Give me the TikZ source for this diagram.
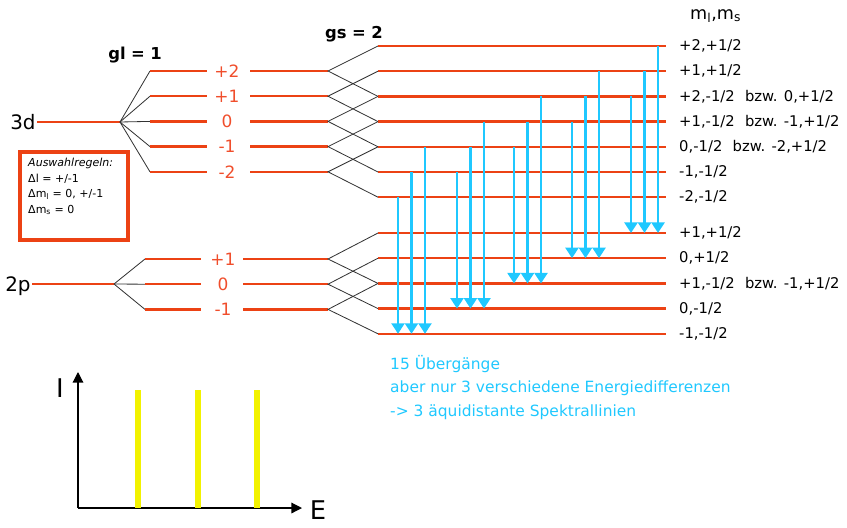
\documentclass[tikz,border=0pt]{standalone}
\usepackage{fontspec}
\setmainfont{DejaVu Sans}
\usepackage{xcolor}
\usetikzlibrary{arrows.meta,positioning}
\definecolor{levelred}{HTML}{EC4214}
\definecolor{labelred}{HTML}{F04E2C}
\definecolor{transblue}{HTML}{1FC8FF}
\definecolor{lineyellow}{HTML}{F2F200}

\begin{document}
\begin{tikzpicture}[x=0.03cm,y=-0.03cm,
    level/.style={draw=levelred,line width=2.2pt},
    split/.style={draw=black!80,line width=0.7pt},
    trans/.style={draw=transblue,line width=2.5pt,-{Triangle[width=11pt,length=9pt]}},
    mlabel/.style={text=labelred,font=\fontsize{14.5}{16}\selectfont,inner sep=0pt},
    qlabel/.style={anchor=west,inner sep=0pt,font=\fontsize{12.6}{14}\selectfont},
    axis/.style={draw=black,line width=1pt,-{Triangle[width=9pt,length=9pt]}}]
  \useasboundingbox (0,0) rectangle (847,527);

  % 3d: split by l, then by s
  \node[anchor=east,inner sep=1pt,font=\fontsize{17}{19}\selectfont] (d3) at (37,122) {3d};
  \coordinate (dfan) at (120,122);
  \draw[level] (d3.east) -- (dfan);
  \node[font=\bfseries\fontsize{14}{16}\selectfont] (gl) at (135,55) {gl\,\,=\,\,1};
  \node[font=\bfseries\fontsize{14}{16}\selectfont] (gs) at (354,34) {gs\,\,=\,\,2};
  \node[anchor=west,inner sep=0pt,font=\fontsize{15}{17}\selectfont] (mhead) at (690,16) {m\textsubscript{l},m\textsubscript{s}};
  \foreach \i/\ml in {1/+2,2/+1,3/0,4/-1,5/-2} {
    \pgfmathsetmacro\y{71+25.2*(\i-1)}
    \coordinate (da\i) at (150,\y);
    \coordinate (db\i) at (207,\y);
    \node[mlabel] (dml\i) at (227,\y) {\ml};
    \coordinate (dc\i) at (250,\y);
    \coordinate (dd\i) at (328,\y);
    \draw[split] (dfan) -- (da\i);
    \draw[level] (da\i) -- (db\i) (dc\i) -- (dd\i);
  }
  \foreach \j/\q in {1/{+2,+1/2},2/{+1,+1/2},3/{+2,-1/2\hspace{0.7em}bzw. 0,+1/2},
      4/{+1,-1/2\hspace{0.7em}bzw. -1,+1/2},5/{0,-1/2\hspace{0.7em}bzw. -2,+1/2},
      6/{-1,-1/2},7/{-2,-1/2}} {
    \pgfmathsetmacro\y{46+25.2*(\j-1)}
    \coordinate (dl\j) at (378,\y);
    \coordinate (dr\j) at (666,\y);
    \draw[level] (dl\j) -- (dr\j);
    \node[qlabel] (dq\j) at (679,\y) {\q};
  }
  \foreach \i in {1,...,5} {
    \pgfmathtruncatemacro\k{\i+2}
    \draw[split] (dl\i) -- (dd\i) -- (dl\k);
  }

  % 2p: split by l, then by s
  \node[anchor=east,inner sep=1pt,font=\fontsize{17}{19}\selectfont] (p2) at (32,286) {2p};
  \coordinate (pfan) at (114,284);
  \draw[level] (p2.east |- pfan) -- (pfan);
  \foreach \i/\ml in {1/+1,2/0,3/-1} {
    \pgfmathsetmacro\y{259+25.2*(\i-1)}
    \coordinate (pa\i) at (145,\y);
    \coordinate (pb\i) at (201,\y);
    \node[mlabel] (pml\i) at (223,\y) {\ml};
    \coordinate (pc\i) at (243,\y);
    \coordinate (pd\i) at (328,\y);
    \draw[split] (pfan) -- (pa\i);
    \draw[level] (pa\i) -- (pb\i) (pc\i) -- (pd\i);
  }
  \foreach \k/\q in {1/{+1,+1/2},2/{0,+1/2},3/{+1,-1/2\hspace{0.7em}bzw. -1,+1/2},
      4/{0,-1/2},5/{-1,-1/2}} {
    \pgfmathsetmacro\y{233+25.2*(\k-1)}
    \coordinate (pl\k) at (378,\y);
    \coordinate (pr\k) at (666,\y);
    \draw[level] (pl\k) -- (pr\k);
    \node[qlabel] (pq\k) at (679,\y) {\q};
  }
  \foreach \i in {1,2,3} {
    \pgfmathtruncatemacro\k{\i+2}
    \draw[split] (pl\i) -- (pd\i) -- (pl\k);
  }

  % transitions
  \foreach \k/\xa in {5/398,4/457,3/514,2/572,1/631}
    \foreach \n in {0,1,2} {
      \pgfmathsetmacro\xx{\xa+13.5*\n}
      \pgfmathtruncatemacro\j{\k+2-\n}
      \draw[trans] (\xx,0 |- dl\j) -- (\xx,0 |- pl\k);
    }
  \node[anchor=north west,align=left,text=transblue,inner sep=0pt,
        font=\fontsize{13.2}{20}\selectfont] (summary) at (390,355)
    {15 Übergänge\\aber nur 3 verschiedene Energiedifferenzen\\-> 3 äquidistante Spektrallinien};

  % selection rules
  \node[draw=levelred,line width=3pt,minimum width=3.24cm,minimum height=2.64cm] (rules) at (74,196) {};
  \node[anchor=north west,align=left,inner sep=0pt,font=\fontsize{9.4}{13.3}\selectfont] (rulestext) at (28,158)
    {\textit{Auswahlregeln:}\\Δl = +/-1\\Δm\textsubscript{l} = 0, +/-1\\Δm\textsubscript{s} = 0};

  % spectrum
  \coordinate (origin) at (78,508);
  \coordinate (itop) at (78,372);
  \coordinate (eend) at (302,508);
  \draw[axis] (origin) -- (itop);
  \draw[axis] (origin) -- (eend);
  \node[font=\fontsize{22}{24}\selectfont] (ilabel) at (60,388) {I};
  \node[font=\fontsize{22}{24}\selectfont] (elabel) at (318,510) {E};
  \foreach \x [count=\b] in {138,198,257} {
    \coordinate (bar\b) at (\x,390);
    \draw[lineyellow,line width=5pt] (bar\b) -- (bar\b |- origin);
  }
\end{tikzpicture}
\end{document}
